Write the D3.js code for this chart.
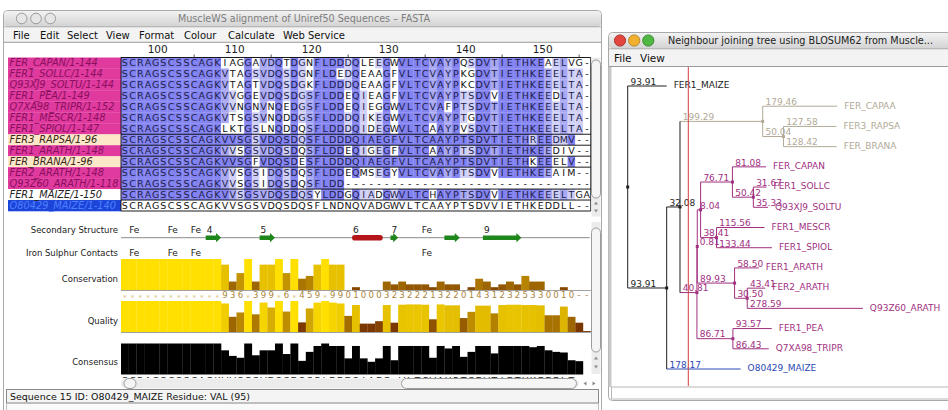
<!DOCTYPE html>
<html>
<head>
<meta charset="utf-8">
<script src="https://cdn.jsdelivr.net/npm/d3@7"></script>
<style>
  body { margin: 0; background: #fff; }
  svg { display: block; }
  text { font-family: "DejaVu Sans", sans-serif; }
</style>
</head>
<body>
<svg id="chart" width="948" height="410"></svg>
<script>
const seqNames = ["FER_CAPAN/1-144", "FER1_SOLLC/1-144", "Q93XJ9_SOLTU/1-144", "FER1_PEA/1-149",
  "Q7XA98_TRIPR/1-152", "FER1_MESCR/1-148", "FER1_SPIOL/1-147", "FER3_RAPSA/1-96",
  "FER1_ARATH/1-148", "FER_BRANA/1-96", "FER2_ARATH/1-148", "Q93Z60_ARATH/1-118",
  "FER1_MAIZE/1-150", "O80429_MAIZE/1-140"];

const sequences = [
  "SCRAGSCSSCAGKIAGGAVDQTDGNFLDDDQLEEGWVLTCVAYPQSDVTIETHKEAELVG-",
  "SCRAGSCSSCAGKVTAGSVDQSDGNFLDEDQEAAGFVLTCVAYPKGDVTIETHKEEELTA-",
  "SCRAGSCSSCAGKVTAGTVDQSDGKFLDDDQEAAGFVLTCVAYPKCDVTIETHKEEELTA-",
  "SCRAGSCSSCAGKVVGGEVDQSDGSFLDDEQIEAGFVLTCVAYPTSDVVIETHKEEDLTA-",
  "SCRAGSCSSCAGKVVNGNVNQEDGSFLDDEQIEGGWVLTCVAFPTSDVTIETHKEEELTA-",
  "SCRAGSCSSCAGKVTSGSVNQDDGSFLDDDQIKEGWVLTCVAYPTGDVTIETHKEEELTA-",
  "SCRAGSCSSCAGKLKTGSLNQDDQSFLDDDQIDEGWVLTCAAYPVSDVTIETHKEEELTA-",
  "SCRAGSCSSCAGKVVSGSVDQSDQSFLDDDQIAEGFVLTCAAYPTSDVTIETHREEDMV--",
  "SCRAGSCSSCAGKVVSGSVDQSDQSFLDDEQIGEGFVLTCAAYPTSDVTIETHKEEDIV--",
  "SCRAGSCSSCAGKVVSGFVDQSDESFLDDDQIAEGFVLTCAAYPTSDVTIETHKEEELV--",
  "SCRAGSCSSCAGKVVSGSIDQSDQSFLDDEQMSEGYVLTCVAYPTSDVVIETHKEEAIM--",
  "SCRAGSCSSCAGKVVSGSIDQSDQSFLDD--------------------------------",
  "SCRAGSCSSCAGKVVSGSVDQSDQSYLDDGQIADGWVLTCHAYPTSDVVIETHKEEELTGA",
  "SCRAGSCSSCAGKVVSGSVDQSDQSFLNDNQVADGWVLTCAAYPTSDVVIETHKEDDLL--"
];

const seqGroups = ["purple", "purple", "purple", "purple", "purple", "purple", "purple",
  "beige", "purple", "beige", "purple", "purple", "none", "blue"];

const firstResidue = 96;
const rulerLabels = [100, 110, 120, 130, 140, 150];

// secondary structure elements (column ranges)
const ssType = ["E", "E", "H", "E", "E", "E"];
const ssStart = [11, 18, 30, 35, 42, 47];
const ssEnd = [12, 19, 33, 35, 43, 51];
const ssLabel = ["4", "5", "6", "7", "", "9"];
const ssFeCols = [1, 6, 9, 39];
const ironCols = [1, 6, 9, 39];

const conservation = ["*", "*", "*", "*", "*", "*", "*", "*", "*", "*", "*", "*", "*",
  9, 3, 6, "*", 3, 9, 9, "*", 6, "*", 4, 5, 9, "*", 9, 9,
  0, 1, 0, 0, 0, 3, 2, 3, 2, 2, 2, 1, 3, 2, 2, 0, 1, 4, 3, 1, 2, 3, 2, 5, 3, 3, 0, 0, 1, 0, "-", "-"];

const quality = [1, 1, 1, 1, 1, 1, 1, 1, 1, 1, 1, 1, 1,
  0.92, 0.49, 0.63, 1, 0.57, 0.95, 0.79, 1, 0.66, 1, 0.31, 0.76, 0.95, 1, 0.95, 0.92,
  0.52, 0.87, 0.27, 0.27, 0.35, 0.87, 0.30, 0.88, 0.89, 0.89, 0.88, 0.41, 0.89, 0.86, 0.86,
  0.45, 0.65, 0.85, 0.85, 0.60, 0.87, 0.88, 0.88, 0.87, 0.87, 0.86, 0.54, 0.54, 0.82, 0.49, 0.30, 0.03];

const consensusPct = [1, 1, 1, 1, 1, 1, 1, 1, 1, 1, 1, 1, 1,
  0.78, 0.60, 0.54, 1, 0.62, 0.78, 0.78, 1, 0.66, 1, 0.44, 0.73, 0.92, 1, 0.92, 0.92,
  0.52, 0.92, 0.52, 0.41, 0.52, 0.92, 0.46, 0.92, 0.92, 0.92, 0.92, 0.54, 0.92, 0.84, 0.92,
  0.57, 0.73, 0.92, 0.92, 0.68, 0.92, 0.92, 0.92, 0.92, 0.88, 0.92, 0.78, 0.73, 0.71, 0.46, 0.43, 0];

const treeNewick = "(FER1_MAIZE:93.91,(((FER_CAPAA:179.46,(FER3_RAPSA:127.58,FER_BRANA:128.42):50.04):199.29," +
  "((((FER_CAPAN:81.08,(FER1_SOLLC:31.67,Q93XJ9_SOLTU:35.33):50.42):76.71,(FER1_MESCR:115.56,FER1_SPIOL:133.44):38.41):8.04," +
  "(FER1_ARATH:58.50,(FER2_ARATH:43.41,Q93Z60_ARATH:278.59):30.50):89.93):0.81," +
  "(FER1_PEA:93.57,Q7XA98_TRIPR:86.43):86.71):40.81):32.08,O80429_MAIZE:178.17):93.91);";

const greyLeaves = ["FER_CAPAA", "FER3_RAPSA", "FER_BRANA"];
const blueLeaves = ["O80429_MAIZE"];
const blackLeaves = ["FER1_MAIZE"];

const svg = d3.select('#chart');
const defs = svg.append('defs');

const grad = defs.append('linearGradient').attr('id', 'titleGrad')
  .attr('x1', 0).attr('y1', 0).attr('x2', 0).attr('y2', 1);
grad.append('stop').attr('offset', '0%').attr('stop-color', '#f2f2f2');
grad.append('stop').attr('offset', '100%').attr('stop-color', '#d2d2d2');

const windowFrame = (x, y, w, h) => {
  svg.append('rect')
    .attr('x', x).attr('y', y).attr('width', w).attr('height', h).attr('rx', 4)
    .attr('fill', '#fff').attr('stroke', '#a9a9a9');
  svg.append('rect')
    .attr('x', x + 0.5).attr('y', y + 0.5).attr('width', w - 1).attr('height', 16).attr('rx', 4)
    .attr('fill', 'url(#titleGrad)');
  svg.append('line')
    .attr('x1', x).attr('x2', x + w).attr('y1', y + 16.5).attr('y2', y + 16.5)
    .attr('stroke', '#9c9c9c');
};

/* ---------------- left window ---------------- */
windowFrame(3.5, 10.5, 598, 420);

[21.7, 36, 50.3].forEach(cx => {
  svg.append('circle').attr('cx', cx).attr('cy', 18.5).attr('r', 5.3)
    .attr('fill', '#e6e6e6').attr('stroke', '#9a9a9a');
});
svg.append('text')
  .attr('x', 178).attr('y', 22.3)
  .attr('font-size', '10px').attr('fill', '#7d7d7d')
  .attr('textLength', 252).attr('lengthAdjust', 'spacingAndGlyphs')
  .text('MuscleWS alignment of Uniref50 Sequences \u2013 FASTA');

svg.append('rect').attr('x', 4).attr('y', 27.5).attr('width', 597).attr('height', 14.5).attr('fill', '#f3f3f3');
svg.append('line').attr('x1', 4).attr('x2', 601).attr('y1', 42.3).attr('y2', 42.3).attr('stroke', '#9a9a9a');

const leftMenu = ["File", "Edit", "Select", "View", "Format", "Colour", "Calculate", "Web Service"];
const leftMenuX = [13, 40, 67, 106, 139, 184, 228, 283];
svg.append('g').selectAll('text').data(leftMenu).join('text')
  .attr('x', (d, i) => leftMenuX[i]).attr('y', 39)
  .attr('font-size', '10px').attr('fill', '#111')
  .text(d => d);

// columns and rows
const nCols = sequences[0].length;
const xCol = d3.scaleLinear().domain([0, nCols]).range([121, 590.7]);
const cw = xCol(1) - xCol(0);
const yRow = d3.scaleBand().domain(d3.range(seqNames.length)).range([57.5, 211]);
const rh = yRow.bandwidth();

// ruler
svg.append('g').selectAll('text').data(rulerLabels).join('text')
  .attr('x', d => xCol(d - firstResidue) + cw / 2 + 2)
  .attr('y', 53)
  .attr('text-anchor', 'middle')
  .attr('font-size', '10.5px').attr('fill', '#222')
  .text(d => d);
svg.append('g').selectAll('line').data(rulerLabels.map(d => d + 5)).join('line')
  .attr('x1', d => xCol(d - firstResidue) + cw / 2)
  .attr('x2', d => xCol(d - firstResidue) + cw / 2)
  .attr('y1', 54.5).attr('y2', 57)
  .attr('stroke', '#555');

// sequence name labels
const labelBg = {purple: '#e03a9f', beige: '#fce8c9', none: '#fff', blue: '#1c44d8'};
const labelFg = {purple: '#8a0f5e', beige: '#3b2a1a', none: '#222', blue: '#4f80ff'};

svg.append('g').selectAll('rect').data(seqNames).join('rect')
  .attr('x', 8).attr('width', 113)
  .attr('y', (d, i) => yRow(i)).attr('height', rh + 0.3)
  .attr('fill', (d, i) => labelBg[seqGroups[i]]);
svg.append('g').selectAll('text').data(seqNames).join('text')
  .attr('x', 9.5).attr('y', (d, i) => yRow(i) + rh / 2 + 3.5)
  .attr('font-size', '9.8px').attr('font-style', 'italic')
  .attr('fill', (d, i) => labelFg[seqGroups[i]])
  .text(d => d);

// percentage identity colouring, per group
const rowsOf = g => seqGroups.map((s, i) => s === g ? i : -1).filter(i => i >= 0);
const consensusOf = (rows, c) => {
  const counts = new Map();
  rows.forEach(r => {
    const ch = sequences[r][c];
    counts.set(ch, (counts.get(ch) || 0) + 1);
  });
  let best = null, n = 0;
  counts.forEach((v, k) => { if (v > n) { best = k; n = v; } });
  return {res: best, pct: 100 * n / rows.length};
};

const pidColour = (r, c) => {
  const g = seqGroups[r];
  const ch = sequences[r][c];
  if (g === 'blue' || ch === '-') return '#fff';
  const rows = g === 'none' ? d3.range(sequences.length) : rowsOf(g);
  const cons = consensusOf(rows, c);
  if (cons.res !== ch) return '#fff';
  if (cons.pct > 80) return '#8383f1';
  if (cons.pct > 60) return '#a9a9f3';
  if (cons.pct > 40) return '#d0d0f7';
  return '#fff';
};

const cells = [];
sequences.forEach((s, r) => {
  s.split('').forEach((ch, c) => cells.push({r, c, ch}));
});

const alignG = svg.append('g');
alignG.selectAll('rect').data(cells).join('rect')
  .attr('x', d => xCol(d.c)).attr('y', d => yRow(d.r))
  .attr('width', cw + 0.2).attr('height', rh + 0.2)
  .attr('fill', d => pidColour(d.r, d.c));
alignG.selectAll('text').data(cells).join('text')
  .attr('x', d => xCol(d.c) + cw / 2)
  .attr('y', d => yRow(d.r) + rh / 2 + 3.4)
  .attr('text-anchor', 'middle')
  .attr('font-size', '9.5px')
  .attr('fill', d => pidColour(d.r, d.c) === '#fff' ? '#111' : '#1d1d4a')
  .text(d => d.ch);

// group boundaries
const bounds = [];
for (let r = 0; r <= seqNames.length; r++) {
  if (r === 0 || r === seqNames.length || seqGroups[r] !== seqGroups[r - 1]) bounds.push(r);
}
svg.append('g').selectAll('line').data(bounds).join('line')
  .attr('x1', xCol(0)).attr('x2', xCol(nCols))
  .attr('y1', r => r === seqNames.length ? yRow(r - 1) + rh : yRow(r))
  .attr('y2', r => r === seqNames.length ? yRow(r - 1) + rh : yRow(r))
  .attr('stroke', '#000').attr('stroke-width', 0.9);
[xCol(0), xCol(nCols)].forEach(x => {
  svg.append('line').attr('x1', x).attr('x2', x)
    .attr('y1', yRow(0)).attr('y2', yRow(seqNames.length - 1) + rh)
    .attr('stroke', '#000').attr('stroke-width', 0.8);
});

/* annotation panel */
const annLabels = ["Secondary Structure", "Iron Sulphur Contacts", "Conservation", "Quality", "Consensus"];
const annLabelY = [233, 256, 281.5, 324, 365];
svg.append('g').selectAll('text').data(annLabels).join('text')
  .attr('x', 118).attr('y', (d, i) => annLabelY[i])
  .attr('text-anchor', 'end').attr('font-size', '8.5px').attr('fill', '#222')
  .text(d => d);

const ssY = 237.7;
svg.append('line').attr('x1', xCol(0)).attr('x2', xCol(nCols) - 1)
  .attr('y1', ssY).attr('y2', ssY).attr('stroke', '#8a8a8a');

const ss = ssType.map((t, i) => ({t, s: ssStart[i], e: ssEnd[i], label: ssLabel[i]}));
ss.forEach(d => {
  const x0 = xCol(d.s), x1 = xCol(d.e + 1);
  if (d.t === 'H') {
    svg.append('rect').attr('x', x0).attr('y', ssY - 2.8).attr('width', x1 - x0).attr('height', 5.6)
      .attr('rx', 2.8).attr('fill', '#b3151a');
  } else {
    const hx = x1 - 5;
    svg.append('path')
      .attr('d', `M${x0},${ssY - 2.2}H${hx}V${ssY - 4.6}L${x1},${ssY}L${hx},${ssY + 4.6}V${ssY + 2.2}H${x0}Z`)
      .attr('fill', '#1f861b');
  }
  if (d.label) {
    svg.append('text').attr('x', x0 + 1).attr('y', 233).attr('font-size', '9px').attr('fill', '#222').text(d.label);
  }
});
svg.append('g').selectAll('text').data(ssFeCols).join('text')
  .attr('x', d => xCol(d) + 0.5).attr('y', 233)
  .attr('font-size', '9px').attr('fill', '#222').text('Fe');
svg.append('g').selectAll('text').data(ironCols).join('text')
  .attr('x', d => xCol(d) + 0.5).attr('y', 256)
  .attr('font-size', '9px').attr('fill', '#222').text('Fe');

// conservation
const consVal = d => d === '*' ? 11 : (d === '-' ? 0 : d);
const yCons = d3.scaleLinear().domain([0, 11]).range([290, 259]);
const consColour = d3.scaleLinear().domain([0, 11]).range(['#7a3800', '#ffe000']);
svg.append('g').selectAll('rect').data(conservation).join('rect')
  .attr('x', (d, i) => xCol(i)).attr('width', cw + 0.2)
  .attr('y', d => yCons(consVal(d))).attr('height', d => yCons(0) - yCons(consVal(d)))
  .attr('fill', d => consColour(consVal(d)));
svg.append('line').attr('x1', xCol(0)).attr('x2', xCol(nCols)).attr('y1', 290.5).attr('y2', 290.5)
  .attr('stroke', '#a0a0a0');
svg.append('g').selectAll('text').data(conservation).join('text')
  .attr('x', (d, i) => xCol(i) + cw / 2).attr('y', d => d === '*' ? 299.5 : 297.5)
  .attr('text-anchor', 'middle')
  .attr('font-size', d => d === '*' ? '7px' : '8.5px')
  .attr('fill', d => d === '*' ? '#d8c27a' : '#a9853a')
  .text(d => d);

// quality
const yQual = d3.scaleLinear().domain([0, 1]).range([332, 301]);
const qualColour = d3.scaleLinear().domain([0.3, 1]).range(['#7a3800', '#ffe000']).clamp(true);
svg.append('g').selectAll('rect').data(quality).join('rect')
  .attr('x', (d, i) => xCol(i)).attr('width', cw + 0.2)
  .attr('y', d => yQual(d)).attr('height', d => yQual(0) - yQual(d))
  .attr('fill', d => qualColour(d));
svg.append('line').attr('x1', xCol(0)).attr('x2', xCol(nCols)).attr('y1', 332.5).attr('y2', 332.5)
  .attr('stroke', '#a0a0a0');

// consensus
const yConsensus = d3.scaleLinear().domain([0, 1]).range([374.5, 343.5]);
svg.append('g').selectAll('rect').data(consensusPct).join('rect')
  .attr('x', (d, i) => xCol(i)).attr('width', cw + 0.2)
  .attr('y', d => yConsensus(d)).attr('height', d => yConsensus(0) - yConsensus(d))
  .attr('fill', '#000');

const consensusSeq = d3.range(nCols).map(c => {
  const counts = d3.rollups(sequences.map(s => s[c]), v => v.length, d => d)
    .sort((a, b) => b[1] - a[1]);
  if (counts.length > 1 && counts[0][1] === counts[1][1]) return '+';
  return counts[0][0];
});
defs.append('clipPath').attr('id', 'consClip')
  .append('rect').attr('x', 121).attr('y', 374.5).attr('width', 470).attr('height', 3.5);
svg.append('g').attr('clip-path', 'url(#consClip)')
  .selectAll('text').data(consensusSeq).join('text')
  .attr('x', (d, i) => xCol(i) + cw / 2).attr('y', 384)
  .attr('text-anchor', 'middle').attr('font-size', '9.5px').attr('fill', '#222')
  .text(d => d);

// scrollbars
const thumb = (x, y, w, h) => svg.append('rect')
  .attr('x', x).attr('y', y).attr('width', w).attr('height', h)
  .attr('rx', Math.min(w, h) / 2).attr('fill', '#f5f5f5').attr('stroke', '#9b9b9b');
svg.append('rect').attr('x', 591.5).attr('y', 57.5).attr('width', 9).attr('height', 159)
  .attr('fill', '#ececec');
thumb(591.5, 60, 9, 138);
svg.append('rect').attr('x', 591.5).attr('y', 222).attr('width', 9).attr('height', 152)
  .attr('fill', '#ececec');
thumb(591.5, 228, 9, 124);
[[596, 203, -1], [596, 211, 1], [596, 358, -1], [596, 367, 1]].forEach(([x, y, dir]) => {
  svg.append('path').attr('d', `M${x - 2},${y - dir * 1.5}L${x + 2},${y - dir * 1.5}L${x},${y + dir * 1.5}Z`)
    .attr('fill', '#8a8a8a');
});
svg.append('rect').attr('x', 121).attr('y', 378.5).attr('width', 458).attr('height', 10)
  .attr('fill', '#ececec').attr('rx', 5);
thumb(124, 378.5, 12, 10);
thumb(401.5, 378.5, 175, 10);
[[585, 383.5, -1], [594, 383.5, 1]].forEach(([x, y, dir]) => {
  svg.append('path').attr('d', `M${x - dir * 1.5},${y - 2}L${x - dir * 1.5},${y + 2}L${x + dir * 1.5},${y}Z`)
    .attr('fill', '#8a8a8a');
});

// status bar
svg.append('rect').attr('x', 6.5).attr('y', 389.5).attr('width', 592).attr('height', 13.5)
  .attr('fill', '#f4f4f4').attr('stroke', '#8a8a8a');
svg.append('text').attr('x', 10).attr('y', 400)
  .attr('font-size', '9.5px').attr('fill', '#111')
  .attr('textLength', 240).attr('lengthAdjust', 'spacingAndGlyphs')
  .text('Sequence 15 ID: O80429_MAIZE  Residue: VAL (95)');
svg.append('rect').attr('x', 6.5).attr('y', 403.5).attr('width', 592).attr('height', 10)
  .attr('fill', '#fafafa').attr('stroke', '#bdbdbd');

/* ---------------- right window (tree) ---------------- */
windowFrame(608.5, 32.5, 360, 368);
[['#e2463f', 620], ['#f1b12e', 634.2], ['#4fb842', 648.3]].forEach(([c, cx]) => {
  svg.append('circle').attr('cx', cx).attr('cy', 40.5).attr('r', 5.6)
    .attr('fill', c).attr('stroke', d3.color(c).darker(0.8));
});
svg.append('text')
  .attr('x', 668).attr('y', 44.3)
  .attr('font-size', '10px').attr('fill', '#222')
  .attr('textLength', 265).attr('lengthAdjust', 'spacingAndGlyphs')
  .text('Neighbour joining tree using BLOSUM62 from Muscle...');
svg.append('rect').attr('x', 609).attr('y', 49.5).attr('width', 340).attr('height', 17).attr('fill', '#f3f3f3');
svg.append('line').attr('x1', 609).attr('x2', 948).attr('y1', 66.5).attr('y2', 66.5).attr('stroke', '#9a9a9a');
svg.append('text').attr('x', 614).attr('y', 62).attr('font-size', '10.5px').attr('fill', '#111').text('File');
svg.append('text').attr('x', 640).attr('y', 62).attr('font-size', '10.5px').attr('fill', '#111').text('View');

svg.append('rect').attr('x', 608.5).attr('y', 67).attr('width', 3).attr('height', 320).attr('fill', '#c9c9c9');
svg.append('rect').attr('x', 611.5).attr('y', 387).attr('width', 340).attr('height', 12)
  .attr('fill', '#fff').attr('stroke', '#b8b8b8');

// parse the newick tree
const parseNewick = (str) => {
  const s = str.replace(/\s+/g, '');
  let i = 0;
  const node = () => {
    const n = {children: []};
    if (s[i] === '(') {
      i++;
      n.children.push(node());
      while (s[i] === ',') { i++; n.children.push(node()); }
      i++;
    }
    let name = '';
    while (i < s.length && !',():;'.includes(s[i])) name += s[i++];
    n.name = name;
    n.length = 0;
    if (s[i] === ':') {
      i++;
      let num = '';
      while (i < s.length && !',();'.includes(s[i])) num += s[i++];
      n.length = +num;
    }
    if (!n.children.length) delete n.children;
    return n;
  };
  return node();
};

const root = d3.hierarchy(parseNewick(treeNewick));
root.each(d => { d.dist = d.parent ? d.parent.dist + d.data.length : 0; });
const leaves = root.leaves();

const xTree = d3.scaleLinear().domain([0, 100]).range([627.7, 669.2]);
const yTree = d3.scaleLinear().domain([0, leaves.length - 1]).range([86, 369]);
leaves.forEach((d, i) => { d.y = yTree(i); });
root.eachAfter(d => {
  d.x = xTree(d.dist);
  if (d.children) d.y = (d.children[0].y + d.children[d.children.length - 1].y) / 2;
});

const treeColours = {black: '#1e1e1e', grey: '#b1aa97', purple: '#a12f7f', blue: '#2a49b4'};
const leafColour = name => greyLeaves.includes(name) ? 'grey'
  : blueLeaves.includes(name) ? 'blue' : blackLeaves.includes(name) ? 'black' : 'purple';
root.eachAfter(d => {
  if (!d.children) d.col = leafColour(d.data.name);
  else {
    const cols = new Set(d.children.map(c => c.col));
    d.col = cols.size === 1 ? [...cols][0] : 'black';
  }
});

const treeG = svg.append('g');
const nonRoot = root.descendants().filter(d => d.parent);
const internal = root.descendants().filter(d => d.children);

treeG.selectAll('line.h').data(nonRoot).join('line')
  .attr('class', 'h')
  .attr('x1', d => d.parent.x).attr('x2', d => d.x)
  .attr('y1', d => d.y).attr('y2', d => d.y)
  .attr('stroke', d => treeColours[d.col]);
treeG.selectAll('line.v').data(internal).join('line')
  .attr('class', 'v')
  .attr('x1', d => d.x).attr('x2', d => d.x)
  .attr('y1', d => d.children[0].y).attr('y2', d => d.children[d.children.length - 1].y)
  .attr('stroke', d => treeColours[d.col]);
treeG.selectAll('rect.node').data(internal).join('rect')
  .attr('class', 'node')
  .attr('x', d => d.x - 1.5).attr('y', d => d.y - 1.5)
  .attr('width', 3).attr('height', 3)
  .attr('fill', d => treeColours[d.col]);

treeG.selectAll('text.len').data(nonRoot).join('text')
  .attr('class', 'len')
  .attr('x', d => d.parent.x + 2.8).attr('y', d => d.y - 1.2)
  .attr('font-size', '9px')
  .attr('fill', d => treeColours[d.col])
  .text(d => d.data.length.toFixed(2));
treeG.selectAll('text.leaf').data(leaves).join('text')
  .attr('class', 'leaf')
  .attr('x', d => d.x + 7).attr('y', d => d.y + 2.3)
  .attr('font-size', '9px')
  .attr('fill', d => treeColours[d.col])
  .text(d => d.data.name);

// threshold line
svg.append('line').attr('x1', 688.3).attr('x2', 688.3).attr('y1', 67).attr('y2', 386)
  .attr('stroke', '#d63c3c').attr('stroke-width', 1);
</script>
</body>
</html>
